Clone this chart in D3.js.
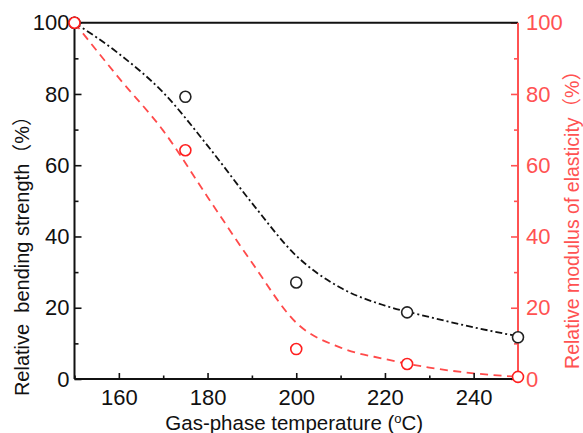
<!DOCTYPE html>
<html>
<head>
<meta charset="utf-8">
<script src="https://cdn.jsdelivr.net/npm/d3@7"></script>
<style>
  html, body { margin: 0; padding: 0; background: #fff; }
  svg { display: block; font-family: "Liberation Sans", Arial, "Noto Sans CJK SC", sans-serif; }
</style>
</head>
<body>
<div id="chart"></div>
<script>
// measured points
const temps = [150, 175, 200, 225, 250];
const bendingStrength = [100, 79.2, 27.1, 18.7, 11.7];
const elasticModulus = [100, 64.2, 8.4, 4.2, 0.6];

// fitted curves, every 10 degrees
const fitTemps = [150, 160, 170, 180, 190, 200, 210, 220, 230, 240, 250];
const bendingFit = [100, 91.3, 80.4, 65.5, 49.4, 34.6, 25.6, 20.6, 17.4, 14.5, 12];
const modulusFit = [100, 84.5, 69.7, 51.1, 32.7, 15.8, 8.8, 5.6, 3.2, 1.6, 0.6];

const xTicks = [160, 180, 200, 220, 240];
const xMinor = [150, 170, 190, 210, 230, 250];
const yTicks = [0, 20, 40, 60, 80, 100];
const yMinor = [10, 30, 50, 70, 90];

const width = 583, height = 433;
const margin = {top: 22.7, right: 65, bottom: 54, left: 74.5};
const innerW = width - margin.left - margin.right;
const innerH = height - margin.top - margin.bottom;
const red = `#ff5252`;
const redMark = `#ff1f1f`;

const svg = d3.select(`#chart`).append(`svg`)
  .attr(`width`, width)
  .attr(`height`, height);

const g = svg.append(`g`)
  .attr(`transform`, `translate(${margin.left},${margin.top})`);

const x = d3.scaleLinear().domain([150, 250]).range([0, innerW]);
const yL = d3.scaleLinear().domain([0, 100]).range([innerH, 0]);
const yR = d3.scaleLinear().domain([0, 100]).range([innerH, 0]);

// fit lines
const line = (ys, scale) => d3.line()
  .x((d, i) => x(fitTemps[i]))
  .y(d => scale(d))
  .curve(d3.curveMonotoneX)(ys);

g.append(`path`)
  .attr(`d`, line(modulusFit, yR))
  .attr(`fill`, `none`)
  .attr(`stroke`, `#ff4a4a`)
  .attr(`stroke-width`, 1.8)
  .attr(`stroke-dasharray`, `8,5.5`);

g.append(`path`)
  .attr(`d`, line(bendingFit, yL))
  .attr(`fill`, `none`)
  .attr(`stroke`, `#111`)
  .attr(`stroke-width`, 1.8)
  .attr(`stroke-dasharray`, `7,3,2,3`);

// axes
const bottom = g.append(`g`).attr(`transform`, `translate(0,${innerH})`);
bottom.call(d3.axisBottom(x).tickValues(xTicks).tickSize(-6).tickPadding(10));
bottom.append(`g`).call(d3.axisBottom(x).tickValues(xMinor).tickSize(-3.5).tickFormat(``));

const left = g.append(`g`);
left.call(d3.axisLeft(yL).tickValues(yTicks).tickSize(-7).tickPadding(5));
left.append(`g`).call(d3.axisLeft(yL).tickValues(yMinor).tickSize(-4).tickFormat(``));

const right = g.append(`g`).attr(`transform`, `translate(${innerW},0)`);
right.call(d3.axisRight(yR).tickValues(yTicks).tickSize(-7).tickPadding(8));
right.append(`g`).call(d3.axisRight(yR).tickValues(yMinor).tickSize(-4).tickFormat(``));

[bottom, left].forEach(a => {
  a.selectAll(`.domain`).attr(`d`, null);
  a.selectAll(`line`).attr(`stroke`, `#111`).attr(`stroke-width`, 1.6);
  a.selectAll(`text`).attr(`fill`, `#111`).attr(`font-size`, 22).attr(`font-family`, null);
});
right.selectAll(`.domain`).attr(`d`, null);
right.selectAll(`line`).attr(`stroke`, red).attr(`stroke-width`, 1.6);
right.selectAll(`text`).attr(`fill`, red).attr(`font-size`, 22).attr(`font-family`, null);

// frame: black left/bottom/top, red right
g.append(`line`).attr(`x1`, 0).attr(`x2`, 0).attr(`y1`, 0).attr(`y2`, innerH)
  .attr(`stroke`, `#111`).attr(`stroke-width`, 2);
g.append(`line`).attr(`x1`, 0).attr(`x2`, innerW).attr(`y1`, innerH).attr(`y2`, innerH)
  .attr(`stroke`, `#111`).attr(`stroke-width`, 2);
g.append(`line`).attr(`x1`, 0).attr(`x2`, innerW).attr(`y1`, 0).attr(`y2`, 0)
  .attr(`stroke`, `#111`).attr(`stroke-width`, 2);
g.append(`line`).attr(`x1`, innerW).attr(`x2`, innerW).attr(`y1`, 0).attr(`y2`, innerH)
  .attr(`stroke`, red).attr(`stroke-width`, 2);

// markers
g.selectAll(`.pt-modulus`)
  .data(elasticModulus)
  .enter().append(`circle`)
    .attr(`class`, `pt-modulus`)
    .attr(`cx`, (d, i) => x(temps[i]))
    .attr(`cy`, d => yR(d))
    .attr(`r`, 5.5)
    .attr(`fill`, `#fff`)
    .attr(`stroke`, redMark)
    .attr(`stroke-width`, 1.6);

g.selectAll(`.pt-bending`)
  .data(bendingStrength)
  .enter().append(`circle`)
    .attr(`class`, `pt-bending`)
    .attr(`cx`, (d, i) => x(temps[i]))
    .attr(`cy`, d => yL(d))
    .attr(`r`, 5.5)
    .attr(`fill`, `#fff`)
    .attr(`stroke`, `#222`)
    .attr(`stroke-width`, 1.6);

// redraw the red point at 150 on top (it sits over the black one)
g.append(`circle`)
  .attr(`cx`, x(temps[0]))
  .attr(`cy`, yR(elasticModulus[0]))
  .attr(`r`, 5.5)
  .attr(`fill`, `#fff`)
  .attr(`stroke`, redMark)
  .attr(`stroke-width`, 1.6);

// axis titles
const xTitle = svg.append(`text`)
  .attr(`x`, margin.left + innerW / 2 - 2)
  .attr(`y`, 430)
  .attr(`text-anchor`, `middle`)
  .attr(`font-size`, 20.5)
  .attr(`fill`, `#111`);
xTitle.append(`tspan`).text(`Gas-phase temperature (`);
xTitle.append(`tspan`).text(`o`).attr(`font-size`, 13).attr(`dy`, -7);
xTitle.append(`tspan`).text(`C)`).attr(`dy`, 7);

svg.append(`text`)
  .attr(`transform`, `translate(29,251) rotate(-90)`)
  .attr(`text-anchor`, `middle`)
  .attr(`font-size`, 20)
  .attr(`fill`, `#111`)
  .attr(`xml:space`, `preserve`)
  .text(`Relative  bending strength（%）`);

svg.append(`text`)
  .attr(`transform`, `translate(579,215) rotate(-90)`)
  .attr(`text-anchor`, `middle`)
  .attr(`font-size`, 19.5)
  .attr(`fill`, red)
  .text(`Relative modulus of elasticity（%）`);
</script>
</body>
</html>
